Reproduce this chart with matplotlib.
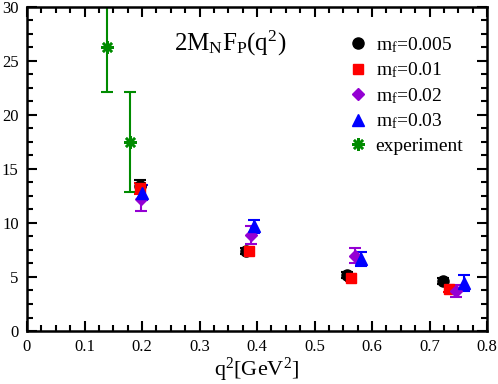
import numpy as np
import matplotlib as mpl
mpl.use('Agg')
import matplotlib.pyplot as plt
import matplotlib.ticker as mticker
from matplotlib.lines import Line2D

plt.rcParams['font.family'] = ['Liberation Serif', 'DejaVu Serif']
plt.rcParams['mathtext.fontset'] = 'custom'
plt.rcParams['mathtext.rm'] = 'Liberation Serif'
plt.rcParams['mathtext.it'] = 'Liberation Serif:italic'

# lattice data, one array per quark mass
q2_005 = [0.197, 0.380, 0.557, 0.723]
ff_005 = [13.4, 7.4, 5.2, 4.65]
er_005 = [0.6, 0.3, 0.3, 0.3]

q2_01 = [0.197, 0.386, 0.564, 0.733]
ff_01 = [13.2, 7.4, 4.95, 3.9]
er_01 = [0.5, 0.3, 0.3, 0.3]

q2_02 = [0.199, 0.390, 0.570, 0.746]
ff_02 = [12.2, 8.9, 6.95, 3.7]
er_02 = [1.1, 0.8, 0.7, 0.55]

q2_03 = [0.200, 0.395, 0.581, 0.760]
ff_03 = [12.8, 9.7, 6.7, 4.45]
er_03 = [0.7, 0.6, 0.65, 0.75]

# experiment
q2_exp = [0.139, 0.179]
ff_exp = [26.3, 17.5]
er_exp = [4.2, 4.6]

series = [
    (q2_005, ff_005, er_005, 'o', 'black', 8.0, r'm$_\mathrm{f}$=0.005'),
    (q2_01, ff_01, er_01, 's', '#ff0000', 7.0, r'm$_\mathrm{f}$=0.01'),
    (q2_02, ff_02, er_02, 'D', '#9400d3', 6.0, r'm$_\mathrm{f}$=0.02'),
    (q2_03, ff_03, er_03, '^', '#0000ff', 8.0, r'm$_\mathrm{f}$=0.03'),
]
exp_color = '#008b00'

fig = plt.figure(figsize=(4.98, 3.84), dpi=100)
ax = fig.add_axes([0.0542, 0.138, 0.924, 0.844])

handles = []
for x, y, e, m, c, ms, lab in series:
    ax.errorbar(x, y, yerr=e, fmt=m, color=c, ms=ms, mec=c, mfc=c,
                elinewidth=1.5, capsize=4, capthick=1.5)
    handles.append(Line2D([], [], linestyle='none', marker=m, color=c, ms=ms, label=lab))

ax.errorbar(q2_exp, ff_exp, yerr=er_exp, fmt='none', color=exp_color,
            elinewidth=1.5, capsize=4, capthick=1.5)
ax.plot(q2_exp, ff_exp, linestyle='none', marker=(8, 2, 0), color=exp_color,
        ms=9, mew=1.8)
handles.append(Line2D([], [], linestyle='none', marker=(8, 2, 0), color=exp_color,
                      ms=9, mew=1.8, label='experiment'))

ax.set_xlim(0, 0.8)
ax.set_ylim(0, 30)
ax.xaxis.set_major_locator(mticker.MultipleLocator(0.1))
ax.xaxis.set_minor_locator(mticker.MultipleLocator(0.025))
ax.yaxis.set_major_locator(mticker.MultipleLocator(5))
ax.yaxis.set_minor_locator(mticker.MultipleLocator(1.25))
ax.xaxis.set_major_formatter(mticker.FuncFormatter(lambda v, p: "%g" % round(v, 2)))
ax.tick_params(which='both', direction='in', top=True, right=True, width=1.5, labelsize=12)
ax.tick_params(axis='y', pad=6)
ax.tick_params(axis='x', pad=6)
ax.tick_params(which='major', length=7)
ax.tick_params(which='minor', length=4)
for s in ax.spines.values():
    s.set_linewidth(1.8)

ax.set_xlabel(r'q$^2$[GeV$^2$]', fontsize=16, labelpad=0)
ax.text(0.353, 26.6, r'2M$_\mathrm{N}$F$_\mathrm{P}$(q$^2$)', fontsize=18, ha='center', va='center')

ax.legend(handles=handles, loc='upper right', bbox_to_anchor=(0.978, 0.955), frameon=False,
          fontsize=14, handletextpad=0.4, labelspacing=0.3, borderaxespad=0.3,
          handlelength=1.0)

fig.savefig('out.png', dpi=100)
